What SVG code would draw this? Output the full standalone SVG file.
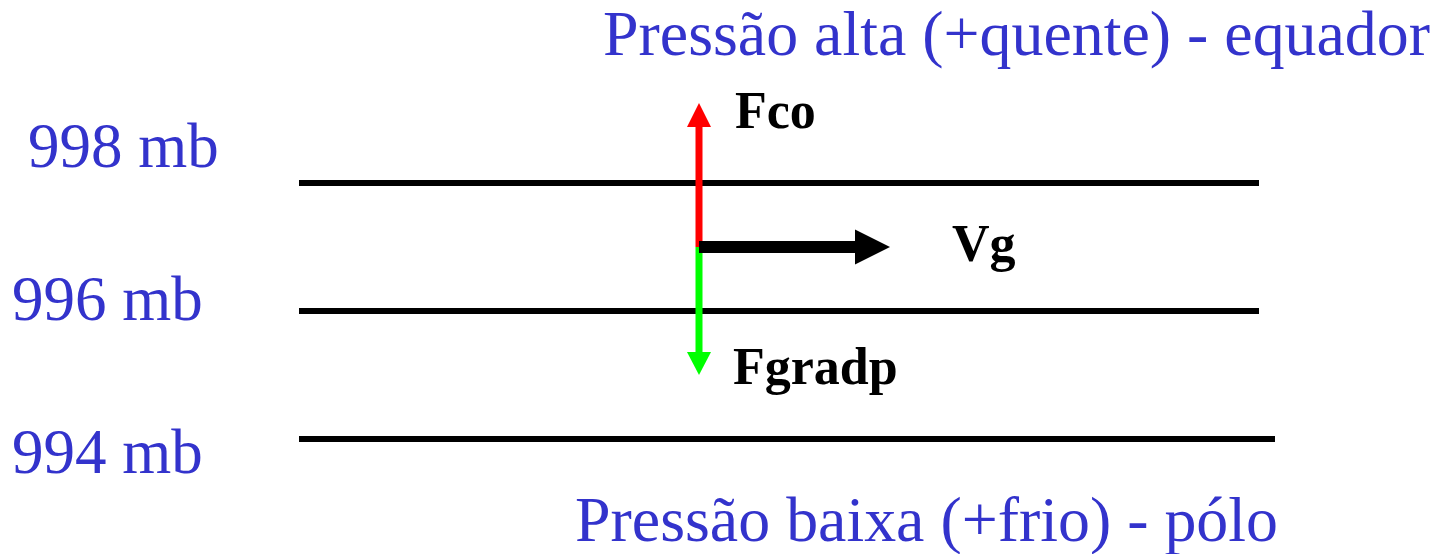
<svg xmlns="http://www.w3.org/2000/svg" width="1447" height="554" viewBox="0 0 1447 554">
<style>
.lbl{font-family:"Liberation Serif","Times New Roman",serif;fill:#3333CC;font-size:63px}
.bold{font-family:"Liberation Serif","Times New Roman",serif;fill:#000;font-size:52px;font-weight:bold}
.iso{stroke:#000;stroke-width:6;fill:none}
</style>
<rect width="1447" height="554" fill="#fff"/>
<g id="titles">
<text class="lbl" x="603" y="55" textLength="827" lengthAdjust="spacingAndGlyphs">Pressão alta (+quente) - equador</text>
<text class="lbl" x="575" y="541" textLength="703" lengthAdjust="spacingAndGlyphs">Pressão baixa (+frio) - pólo</text>
</g>
<g id="isobar-998">
<text class="lbl" x="28" y="167">998 mb</text>
<line class="iso" x1="299" y1="183" x2="1259" y2="183"/>
</g>
<g id="isobar-996">
<text class="lbl" x="12" y="320">996 mb</text>
<line class="iso" x1="299" y1="311" x2="1259" y2="311"/>
</g>
<g id="isobar-994">
<text class="lbl" x="12" y="473">994 mb</text>
<line class="iso" x1="299" y1="439" x2="1275" y2="439"/>
</g>
<g id="connectors">
<g id="fco">
<rect x="695.5" y="126" width="7" height="121" fill="#FF0000"/>
<polygon points="699,103 711,127 687,127" fill="#FF0000"/>
</g>
<g id="fgradp">
<rect x="695.5" y="247" width="7" height="106" fill="#00FF00"/>
<polygon points="687,352 711,352 699,375" fill="#00FF00"/>
</g>
<g id="vg">
<rect x="699" y="241" width="157" height="12" fill="#000"/>
<polygon points="855,229.5 890,247 855,264.5" fill="#000"/>
</g>
</g>
<g id="labels">
<text class="bold" x="735" y="128">Fco</text>
<text class="bold" x="952" y="261">Vg</text>
<text class="bold" x="733" y="384">Fgradp</text>
</g>
</svg>
